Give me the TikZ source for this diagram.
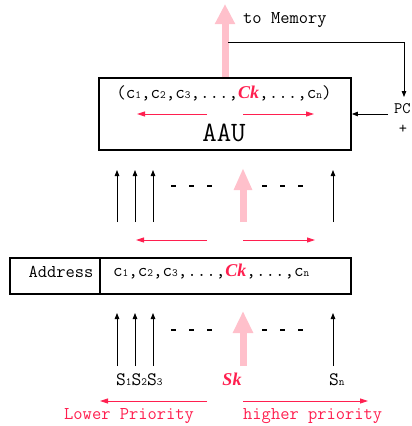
\documentclass[tikz,border=0pt]{standalone}
\usepackage{fontspec}
\newfontfamily\keyfont{Liberation Serif}
\usetikzlibrary{arrows.meta}
\definecolor{hot}{HTML}{FF1F4F}
\definecolor{pinkarr}{HTML}{FFC0CB}
\newcommand{\kk}[1]{{\keyfont\fontsize{18}{20}\selectfont\bfseries\itshape\color{hot}#1}}
\newcommand{\sm}[1]{{\fontsize{11}{12}\selectfont #1}}
\begin{document}
\begin{tikzpicture}[x=1pt,y=-1pt,
  box/.style={draw,line width=1.8pt,inner sep=0pt},
  blk/.style={-{Triangle[length=6pt,width=4.5pt]},line width=0.8pt},
  redarr/.style={hot,-{Triangle[length=8pt,width=5pt]},line width=0.9pt},
  pinkup/.style={pinkarr,line width=7pt,-{Triangle[length=20pt,width=19pt]}},
  mono/.style={font=\ttfamily\fontsize{18}{20}\selectfont,inner sep=0pt},
  tup/.style={mono,font=\ttfamily\fontsize{18.5}{20}\selectfont},
  pcfont/.style={mono,font=\ttfamily\fontsize{16}{18}\selectfont},
  redtxt/.style={mono,text=hot},
  dots/.style={line width=2.2pt,dash pattern=on 5pt off 13pt}]
\useasboundingbox (0,0) rectangle (412,426);
% AAU box
\node[box,minimum width=252pt,minimum height=72pt] (aau) at (225,114) {};
\node[tup] (tuple) at (224,93) {(c\sm1,c\sm2,c\sm3,...,\kk{Ck},...,c\sm n)};
\node[mono,font=\ttfamily\fontsize{28}{30}\selectfont] (aaut) at (224,133) {AAU};
\coordinate (a1) at (207,114); \coordinate (a1e) at (137,114);
\coordinate (a2) at (243,114); \coordinate (a2e) at (314,114);
\draw[redarr] (a1) -- (a1e);
\draw[redarr] (a2) -- (a2e);
% to memory
\coordinate (mem) at (225,4);
\draw[pinkup] (aau.north -| mem) -- (mem);
\node[mono,anchor=west] (tomem) at (243,20) {to Memory};
\coordinate (fb) at (228,42);
\coordinate (fbc) at (404,42);
\coordinate (fbe) at (404,97);
\draw[line width=0.8pt,-{Triangle[length=6pt,width=4.5pt]}] (fb) -- (fbc) -- (fbe);
\node[pcfont,anchor=west] (pc) at (394,109) {PC};
\node[pcfont] (plus) at (403,129) {+};
\coordinate (pcs) at (388,114);
\draw[blk] (pcs) -- (aau.east |- pcs);
% middle arrows
\foreach \x/\n in {117/m1,135/m2,153/m3,333/mn}{
  \coordinate (\n b) at (\x,222); \coordinate (\n t) at (\x,170);
  \draw[blk] (\n b) -- (\n t);}
\coordinate (mkb) at (243,222); \coordinate (mkt) at (243,168);
\draw[pinkup,-{Triangle[length=22pt,width=17pt]}] (mkb) -- (mkt);
\coordinate (d1) at (171,186); \coordinate (d1e) at (213,186);
\coordinate (d2) at (262,186); \coordinate (d2e) at (304,186);
\draw[dots] (d1) -- (d1e);
\draw[dots] (d2) -- (d2e);
\coordinate (r1) at (207,240); \coordinate (r1e) at (136,240);
\coordinate (r2) at (243,240); \coordinate (r2e) at (315,240);
\draw[redarr] (r1) -- (r1e);
\draw[redarr] (r2) -- (r2e);
% address box
\node[box,minimum width=90pt,minimum height=36pt] (addr) at (55,276) {};
\node[box,minimum width=251pt,minimum height=36pt] (cells) at (225.5,276) {};
\node[mono] (addrt) at (61,272) {Address};
\node[tup,anchor=west] (cellst) at (113,272) {c\sm1,c\sm2,c\sm3,...,\kk{Ck},...,c\sm n};
% bottom arrows
\foreach \x/\n in {117/b1,135/b2,153/b3,333/bn}{
  \coordinate (\n b) at (\x,366); \coordinate (\n t) at (\x,313);
  \draw[blk] (\n b) -- (\n t);}
\coordinate (bkb) at (243,366); \coordinate (bkt) at (243,311);
\draw[pinkup,-{Triangle[length=22pt,width=19pt]}] (bkb) -- (bkt);
\coordinate (e1) at (171,330); \coordinate (e1e) at (213,330);
\coordinate (e2) at (262,330); \coordinate (e2e) at (304,330);
\draw[dots] (e1) -- (e1e);
\draw[dots] (e2) -- (e2e);
% labels
\node[mono,font=\ttfamily\fontsize{19}{21}\selectfont,anchor=west] (s123) at (116,380) {S\sm1S\sm2S\sm3};
\node[inner sep=0pt] (sk) at (232,379) {\kk{Sk}};
\node[mono,font=\ttfamily\fontsize{19}{21}\selectfont,anchor=west] (sn) at (329,380) {S\sm n};
\coordinate (p1) at (207,401); \coordinate (p1e) at (100,401);
\coordinate (p2) at (243,401); \coordinate (p2e) at (368,401);
\draw[redarr] (p1) -- (p1e);
\draw[redarr] (p2) -- (p2e);
\node[redtxt,anchor=west] (low) at (64,416) {Lower Priority};
\node[redtxt,anchor=west] (high) at (243,416) {higher priority};
\end{tikzpicture}
\end{document}
